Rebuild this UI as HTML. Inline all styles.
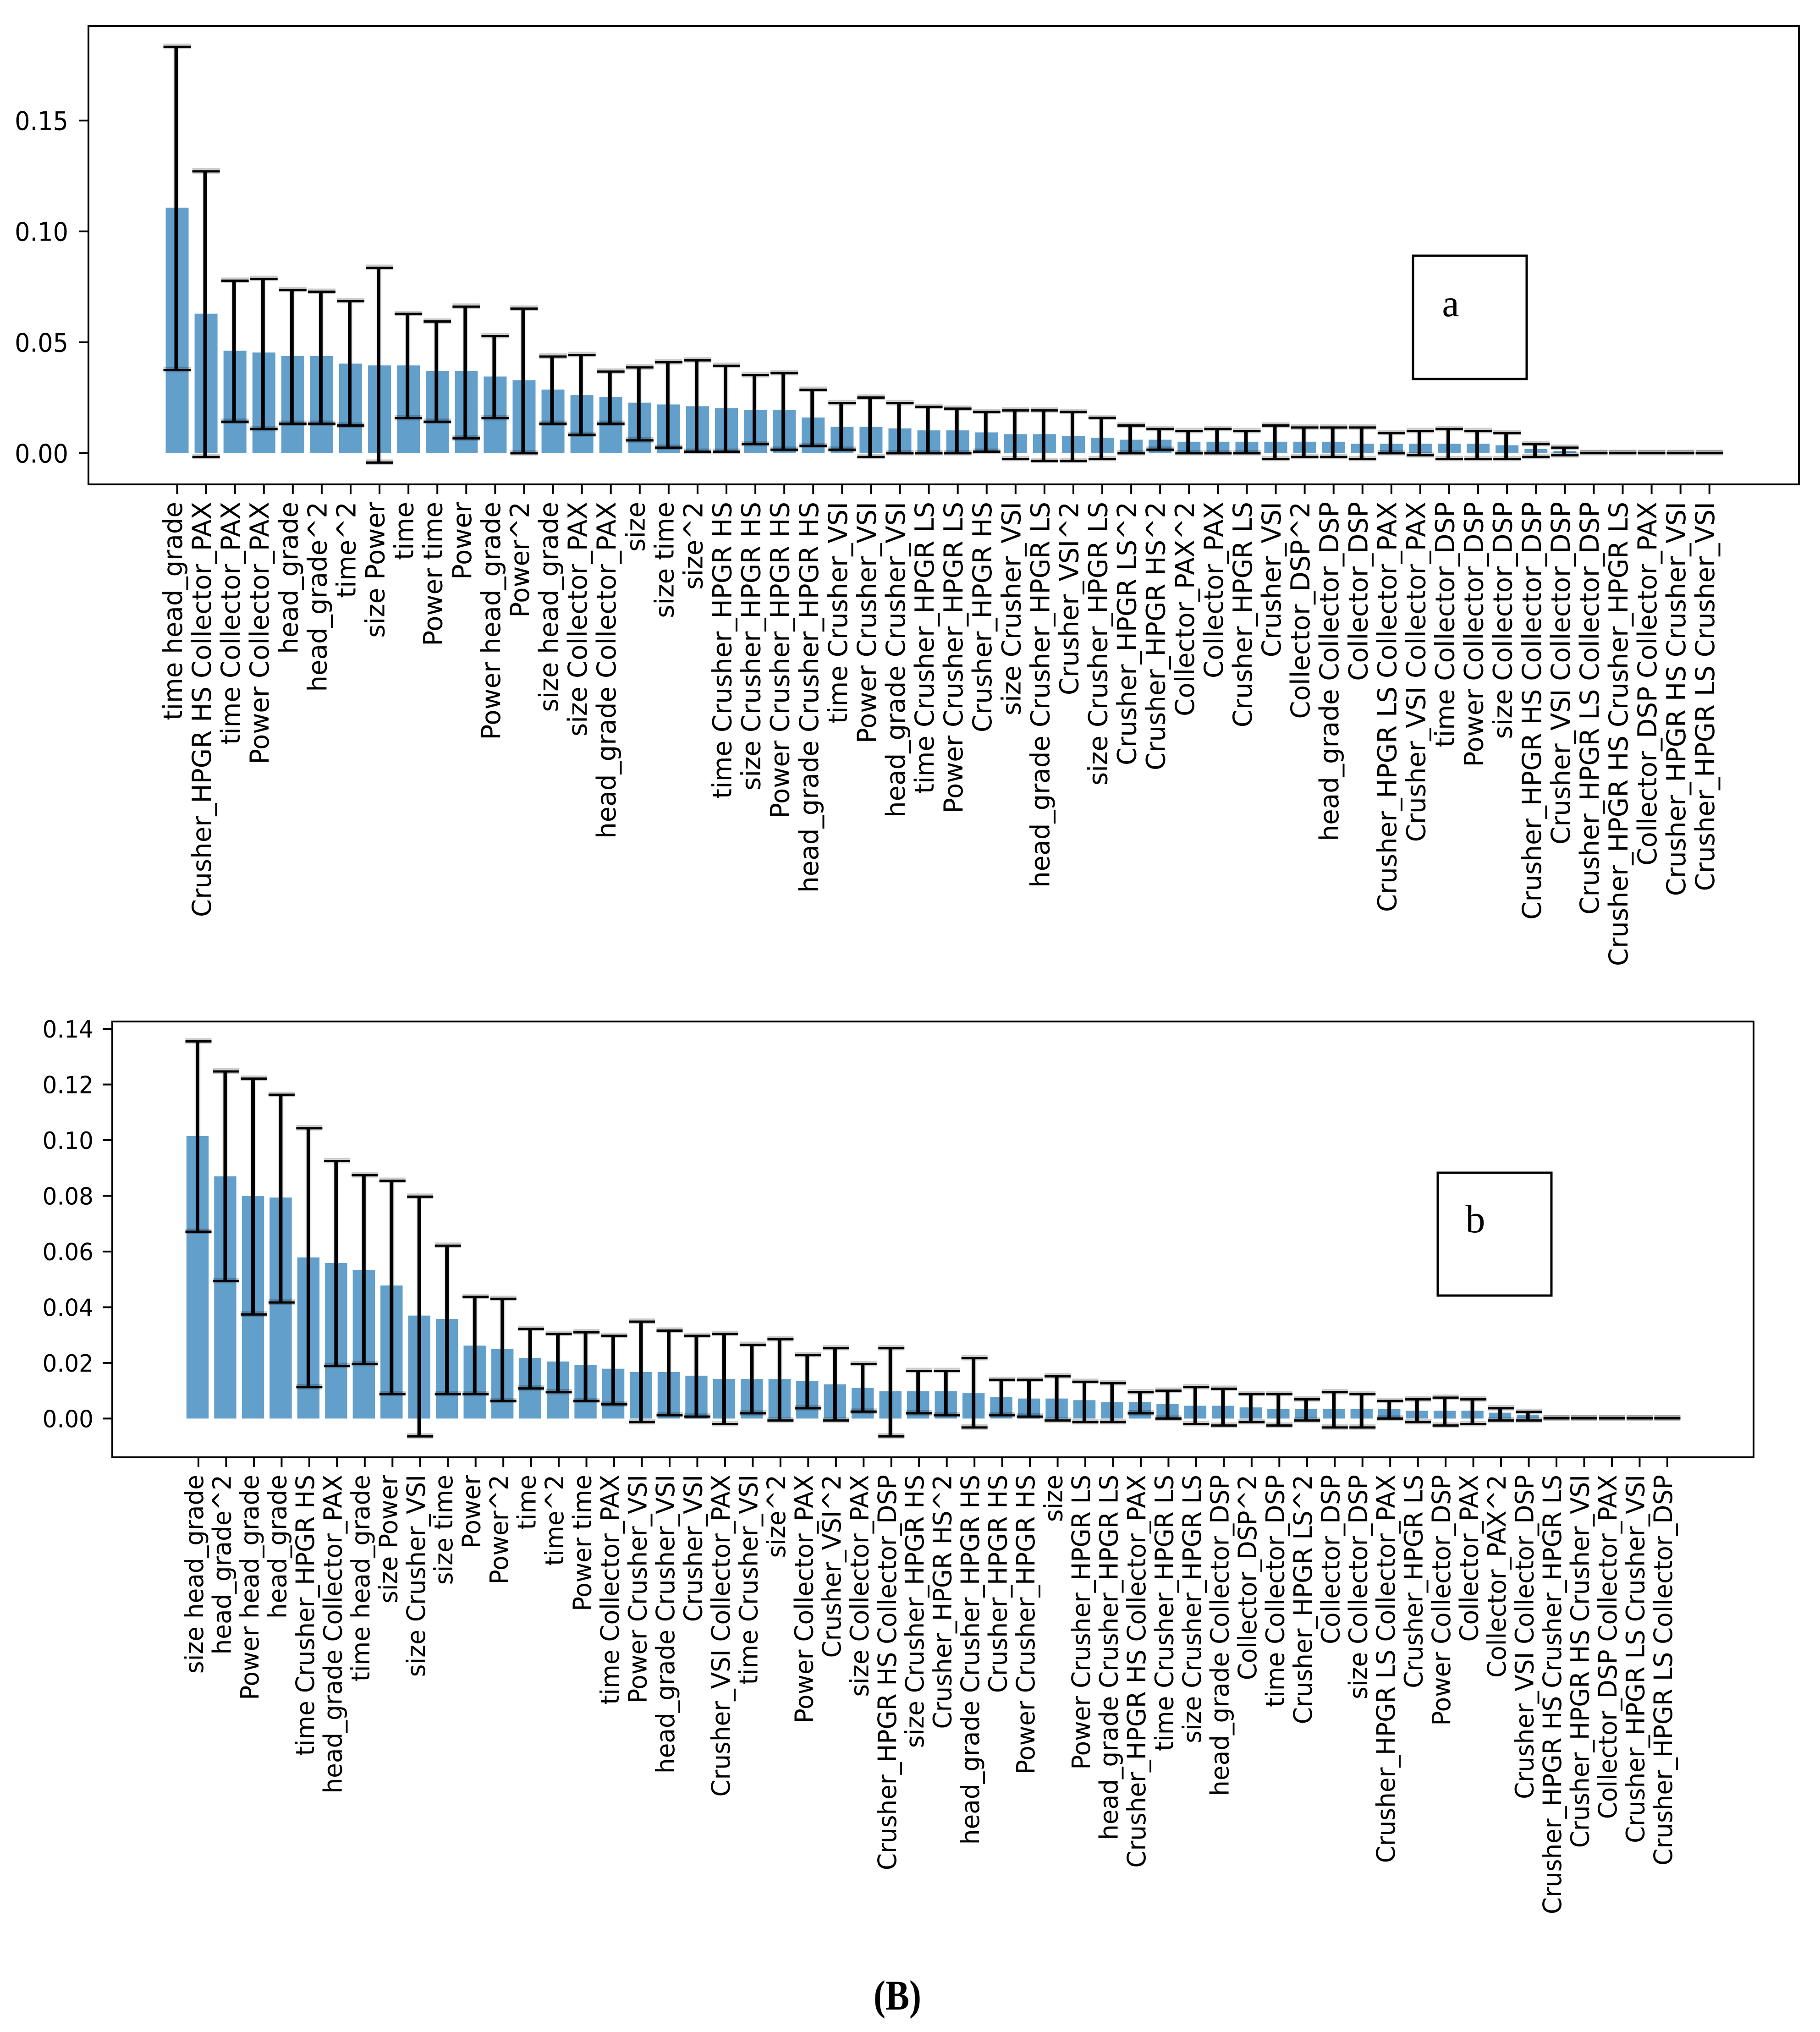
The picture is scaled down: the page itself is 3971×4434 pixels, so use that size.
<!DOCTYPE html>
<html lang="en">
<head>
<meta charset="utf-8">
<title>Feature importance charts</title>
<style>
  html, body { margin: 0; padding: 0; background: #ffffff; }
  #figure { display: block; }
  .tick-text { font-family: "DejaVu Sans", "Liberation Sans", sans-serif; font-size: 56px; fill: #000; }
  .serif-text { font-family: "Liberation Serif", serif; fill: #000; }
</style>
</head>
<body>
<svg id="figure" xmlns="http://www.w3.org/2000/svg" width="3971" height="4434" viewBox="0 0 3971 4434">
  <rect x="0" y="0" width="3971" height="4434" fill="#ffffff"/>
  <g id="chart-a"></g>
  <g id="chart-b"></g>
  <g>
    <rect x="3083" y="558" width="248" height="269" fill="#ffffff" stroke="#000" stroke-width="5"/>
    <text class="serif-text" x="3165" y="690" font-size="84" text-anchor="middle">a</text>
  </g>
  <g>
    <rect x="3137" y="2559" width="248" height="268" fill="#ffffff" stroke="#000" stroke-width="5"/>
    <text class="serif-text" x="3219" y="2689" font-size="86" text-anchor="middle">b</text>
  </g>
  <text class="serif-text" font-size="78" font-weight="bold" text-anchor="middle" transform="translate(1958,4385) scale(1,1.18)">(B)</text>
</svg>
<script>
const categoriesA = ["time head_grade","Crusher_HPGR HS Collector_PAX","time Collector_PAX","Power Collector_PAX","head_grade","head_grade^2","time^2","size Power","time","Power time","Power","Power head_grade","Power^2","size head_grade","size Collector_PAX","head_grade Collector_PAX","size","size time","size^2","time Crusher_HPGR HS","size Crusher_HPGR HS","Power Crusher_HPGR HS","head_grade Crusher_HPGR HS","time Crusher_VSI","Power Crusher_VSI","head_grade Crusher_VSI","time Crusher_HPGR LS","Power Crusher_HPGR LS","Crusher_HPGR HS","size Crusher_VSI","head_grade Crusher_HPGR LS","Crusher_VSI^2","size Crusher_HPGR LS","Crusher_HPGR LS^2","Crusher_HPGR HS^2","Collector_PAX^2","Collector_PAX","Crusher_HPGR LS","Crusher_VSI","Collector_DSP^2","head_grade Collector_DSP","Collector_DSP","Crusher_HPGR LS Collector_PAX","Crusher_VSI Collector_PAX","time Collector_DSP","Power Collector_DSP","size Collector_DSP","Crusher_HPGR HS Collector_DSP","Crusher_VSI Collector_DSP","Crusher_HPGR LS Collector_DSP","Crusher_HPGR HS Crusher_HPGR LS","Collector_DSP Collector_PAX","Crusher_HPGR HS Crusher_VSI","Crusher_HPGR LS Crusher_VSI"];
const valuesA = [0.1107,0.0629,0.0462,0.0454,0.0438,0.0438,0.0404,0.0396,0.0396,0.0371,0.0371,0.0346,0.0329,0.0287,0.0262,0.0254,0.0228,0.0220,0.0212,0.0203,0.0196,0.0196,0.0161,0.0119,0.0119,0.0112,0.0103,0.0103,0.0094,0.0086,0.0086,0.0077,0.0070,0.0061,0.0061,0.0052,0.0052,0.0052,0.0052,0.0052,0.0052,0.0043,0.0043,0.0043,0.0043,0.0043,0.0036,0.0019,0.0010,0.0001,0.0001,0.0001,0.0001,0.0001];
const errHighA = [0.1832,0.1271,0.0778,0.0786,0.0736,0.0728,0.0686,0.0836,0.0628,0.0594,0.0661,0.0528,0.0652,0.0436,0.0443,0.0368,0.0387,0.0410,0.0419,0.0394,0.0352,0.0361,0.0286,0.0226,0.0251,0.0226,0.0209,0.0201,0.0186,0.0193,0.0193,0.0186,0.0159,0.0125,0.0109,0.0100,0.0109,0.0100,0.0125,0.0116,0.0116,0.0116,0.0091,0.0100,0.0109,0.0100,0.0091,0.0041,0.0025,0.0001,0.0001,0.0001,0.0001,0.0001];
const errLowA = [0.0375,-0.0017,0.0142,0.0109,0.0133,0.0133,0.0125,-0.0042,0.0158,0.0142,0.0067,0.0158,0.0000,0.0133,0.0083,0.0133,0.0058,0.0025,0.0007,0.0007,0.0041,0.0016,0.0033,0.0016,-0.0017,0.0000,0.0000,0.0000,0.0007,-0.0026,-0.0035,-0.0035,-0.0026,0.0000,0.0016,0.0000,0.0000,0.0000,-0.0026,-0.0017,-0.0017,-0.0026,0.0000,-0.0009,-0.0026,-0.0026,-0.0026,-0.0017,-0.0009,0.0001,0.0001,0.0001,0.0001,0.0001];
const tickValuesA = [0, 0.05, 0.10, 0.15];
const tickLabelsA = ["0.00", "0.05", "0.10", "0.15"];

const categoriesB = ["size head_grade","head_grade^2","Power head_grade","head_grade","time Crusher_HPGR HS","head_grade Collector_PAX","time head_grade","size Power","size Crusher_VSI","size time","Power","Power^2","time","time^2","Power time","time Collector_PAX","Power Crusher_VSI","head_grade Crusher_VSI","Crusher_VSI","Crusher_VSI Collector_PAX","time Crusher_VSI","size^2","Power Collector_PAX","Crusher_VSI^2","size Collector_PAX","Crusher_HPGR HS Collector_DSP","size Crusher_HPGR HS","Crusher_HPGR HS^2","head_grade Crusher_HPGR HS","Crusher_HPGR HS","Power Crusher_HPGR HS","size","Power Crusher_HPGR LS","head_grade Crusher_HPGR LS","Crusher_HPGR HS Collector_PAX","time Crusher_HPGR LS","size Crusher_HPGR LS","head_grade Collector_DSP","Collector_DSP^2","time Collector_DSP","Crusher_HPGR LS^2","Collector_DSP","size Collector_DSP","Crusher_HPGR LS Collector_PAX","Crusher_HPGR LS","Power Collector_DSP","Collector_PAX","Collector_PAX^2","Crusher_VSI Collector_DSP","Crusher_HPGR HS Crusher_HPGR LS","Crusher_HPGR HS Crusher_VSI","Collector_DSP Collector_PAX","Crusher_HPGR LS Crusher_VSI","Crusher_HPGR LS Collector_DSP"];
const valuesB = [0.1015,0.0870,0.0799,0.0794,0.0579,0.0559,0.0534,0.0478,0.0370,0.0358,0.0262,0.0250,0.0218,0.0205,0.0193,0.0179,0.0167,0.0167,0.0154,0.0142,0.0142,0.0142,0.0135,0.0123,0.0110,0.0098,0.0098,0.0098,0.0091,0.0078,0.0072,0.0072,0.0066,0.0059,0.0059,0.0053,0.0046,0.0046,0.0040,0.0034,0.0034,0.0034,0.0034,0.0034,0.0028,0.0028,0.0028,0.0021,0.0014,0.0001,0.0001,0.0001,0.0001,0.0001];
const errHighB = [0.1355,0.1247,0.1221,0.1163,0.1043,0.0925,0.0874,0.0854,0.0797,0.0621,0.0437,0.0430,0.0322,0.0304,0.0310,0.0297,0.0348,0.0316,0.0297,0.0304,0.0265,0.0285,0.0228,0.0253,0.0196,0.0253,0.0171,0.0171,0.0217,0.0139,0.0139,0.0152,0.0132,0.0127,0.0095,0.0100,0.0113,0.0107,0.0088,0.0088,0.0069,0.0095,0.0088,0.0063,0.0069,0.0075,0.0069,0.0037,0.0024,0.0001,0.0001,0.0001,0.0001,0.0001];
const errLowB = [0.0671,0.0494,0.0374,0.0417,0.0113,0.0189,0.0196,0.0088,-0.0064,0.0088,0.0088,0.0063,0.0108,0.0095,0.0063,0.0051,-0.0013,0.0012,0.0007,-0.0020,0.0019,-0.0007,0.0037,-0.0007,0.0025,-0.0064,0.0019,0.0012,-0.0032,0.0012,0.0007,-0.0007,-0.0013,-0.0013,0.0019,0.0000,-0.0020,-0.0025,-0.0013,-0.0025,-0.0007,-0.0032,-0.0032,0.0000,-0.0013,-0.0025,-0.0020,-0.0007,-0.0007,0.0001,0.0001,0.0001,0.0001,0.0001];
const tickValuesB = [0, 0.02, 0.04, 0.06, 0.08, 0.10, 0.12, 0.14];
const tickLabelsB = ["0.00", "0.02", "0.04", "0.06", "0.08", "0.10", "0.12", "0.14"];

const SVG_NS = "http://www.w3.org/2000/svg";

function make(parent, tag, attrs) {
  const el = document.createElementNS(SVG_NS, tag);
  for (const key in attrs) {
    el.setAttribute(key, attrs[key]);
  }
  parent.appendChild(el);
  return el;
}

function drawChart(root, layout, categories, values, errHigh, errLow, tickValues, tickLabels) {
  const xScale = function (i) { return layout.firstX + i * layout.stepX; };
  const yScale = function (v) { return layout.zeroY - v * layout.unitY; };
  const baseFont = 56;

  const haloGroup = make(root, "g", {});
  
  
  const barsGroup = make(root, "g", {});
  
  
  const errorsGroup = make(root, "g", {});
  
  
  const xTicksGroup = make(root, "g", {});
  
  
  const yTicksGroup = make(root, "g", {});
  
  

  categories.forEach(function (label, i) {
    const cx = xScale(i);
    const top = yScale(Math.max(values[i], 0));
    const zero = yScale(0);
    const stemX = cx - 2;
    const bar = make(barsGroup, "rect", {
      x: cx + layout.barShift - layout.barWidth / 2,
      y: top,
      width: layout.barWidth,
      height: Math.max(zero - top, 1),
      fill: "#629fcb"
    });
    
    

    const yHigh = yScale(errHigh[i]);
    const yLow = yScale(errLow[i]);

    if (yLow - yHigh > 2) {
      const stemHalo = make(haloGroup, "line", { x1: stemX, x2: stemX, y1: yHigh, y2: yLow, stroke: "#000", "stroke-opacity": 0.05, "stroke-width": 13 });
      
      
      const stem = make(errorsGroup, "line", { x1: stemX, x2: stemX, y1: yHigh, y2: yLow, stroke: "#000", "stroke-width": 8 });
      
      
    }

    const capTopHalo = make(errorsGroup, "line", { x1: cx - layout.capHalf, x2: cx + layout.capHalf, y1: yHigh - 1, y2: yHigh - 1, stroke: "#000", "stroke-opacity": 0.2, "stroke-width": 12 });
    
    
    const capBottomHalo = make(errorsGroup, "line", { x1: cx - layout.capHalf, x2: cx + layout.capHalf, y1: yLow - 1, y2: yLow - 1, stroke: "#000", "stroke-opacity": 0.2, "stroke-width": 12 });
    
    

    const capTop = make(errorsGroup, "line", { x1: cx - layout.capHalf, x2: cx + layout.capHalf, y1: yHigh, y2: yHigh, stroke: "#000", "stroke-width": 5 });
    
    
    const capBottom = make(errorsGroup, "line", { x1: cx - layout.capHalf, x2: cx + layout.capHalf, y1: yLow, y2: yLow, stroke: "#000", "stroke-width": 5 });
    
    

    const tick = make(xTicksGroup, "line", { x1: cx, x2: cx, y1: layout.bottom, y2: layout.bottom + 21, stroke: "#000", "stroke-width": 4 });
    
    

    const text = make(xTicksGroup, "text", {
      class: "tick-text",
      "text-anchor": "end",
      transform: "translate(" + (cx + layout.labelOffset) + "," + layout.labelTop + ") rotate(-90) scale(" + (layout.lenFont / baseFont) + "," + (layout.crossFont / baseFont) + ")"
    });
    
    
    text.textContent = label;
  });

  tickValues.forEach(function (v, i) {
    const y = yScale(v);
    const tick = make(yTicksGroup, "line", { x1: layout.left - 21, x2: layout.left, y1: y, y2: y, stroke: "#000", "stroke-width": 4 });
    
    
    const text = make(yTicksGroup, "text", {
      class: "tick-text",
      "text-anchor": "end",
      transform: "translate(" + layout.yLabelRight + "," + (y + 0.365 * layout.yLabelHeightFont) + ") scale(" + (layout.yLabelWidthFont / baseFont) + "," + (layout.yLabelHeightFont / baseFont) + ")"
    });
    
    
    text.textContent = tickLabels[i];
  });

  const frame = make(root, "rect", {
    x: layout.left,
    y: layout.top,
    width: layout.right - layout.left,
    height: layout.bottom - layout.top,
    fill: "none",
    stroke: "#000",
    "stroke-width": 4
  });
  
  
}

drawChart(document.getElementById("chart-a"), {
  left: 193, right: 3925, top: 57, bottom: 1057,
  firstX: 386.5, stepX: 63.08, zeroY: 989, unitY: 4840,
  barWidth: 50, barShift: 0, capHalf: 30,
  labelTop: 1095, labelOffset: 10.5, lenFont: 56.2, crossFont: 57,
  yLabelRight: 149, yLabelWidthFont: 52.5, yLabelHeightFont: 56
}, categoriesA, valuesA, errHighA, errLowA, tickValuesA, tickLabelsA);

drawChart(document.getElementById("chart-b"), {
  left: 245, right: 3826, top: 2229, bottom: 3180,
  firstX: 433, stepX: 60.47, zeroY: 3095.4, unitY: 6074,
  barWidth: 48.4, barShift: -2, capHalf: 28.5,
  labelTop: 3218, labelOffset: 10, lenFont: 53.2, crossFont: 55,
  yLabelRight: 204, yLabelWidthFont: 50, yLabelHeightFont: 52
}, categoriesB, valuesB, errHighB, errLowB, tickValuesB, tickLabelsB);
</script>
</body>
</html>
